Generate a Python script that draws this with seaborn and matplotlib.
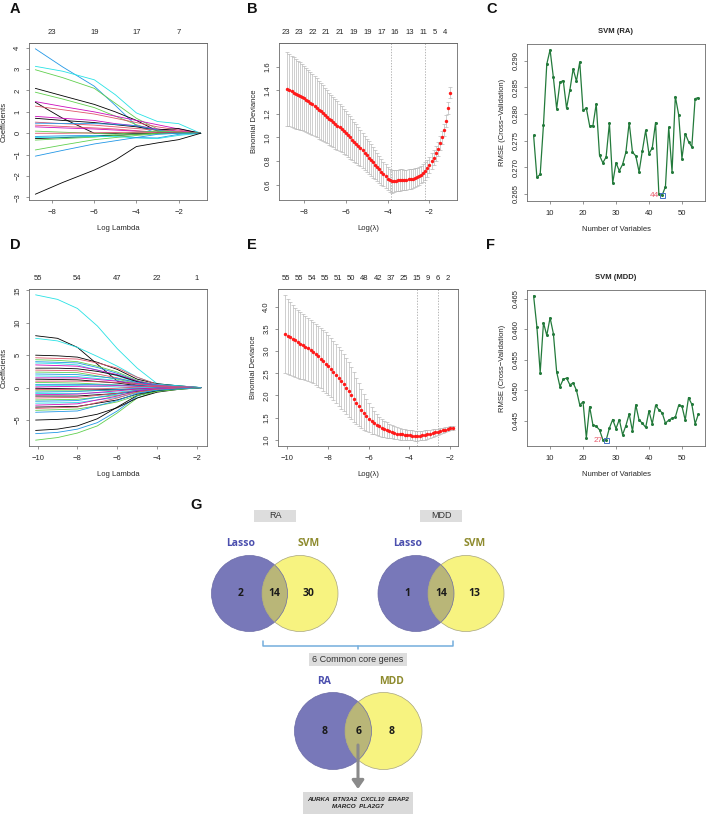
import numpy as np
import matplotlib
matplotlib.use('Agg')
from matplotlib import pyplot as plt
from matplotlib.patches import Circle, Rectangle
import seaborn as sns

W, H = 706, 814
R_PAL = ['#000000', '#DF536B', '#61D04F', '#2297E6', '#28E2E5', '#CD0BBC']
FRAME = '#6B6B6B'
TXT = '#262626'
FS = 5.5
SVM_GREEN = '#237A3B'
VENN_BLUE, VENN_YEL, VENN_MID = '#7878B9', '#F7F380', '#B9B678'
NAME_BLUE, NAME_OLIVE = '#4B4FAE', '#8E8B2E'

# ---- A: lasso coefficient paths (RA)
A_LOGLAM = [-8.8, -7.5, -6.0, -5.0, -4.0, -3.0, -2.0, -0.95]
A_COEF = [
    [3.95, 3.10, 2.20, 1.30, 0.35, 0.00, 0.00, 0],
    [3.13, 2.90, 2.50, 1.80, 0.95, 0.55, 0.45, 0],
    [2.97, 2.60, 2.10, 1.40, 0.70, 0.20, 0.05, 0],
    [2.10, 1.75, 1.35, 1.00, 0.60, 0.10, 0.00, 0],
    [1.92, 1.60, 1.20, 0.80, 0.40, 0.10, 0.00, 0],
    [1.48, 1.25, 1.00, 0.80, 0.60, 0.40, 0.20, 0],
    [1.45, 0.70, 0.00, 0.00, 0.00, 0.00, 0.00, 0],
    [1.27, 1.10, 0.90, 0.70, 0.50, 0.30, 0.15, 0],
    [0.79, 0.70, 0.60, 0.45, 0.35, 0.20, 0.10, 0],
    [0.70, 0.60, 0.50, 0.40, 0.30, 0.15, 0.22, 0],
    [0.52, 0.45, 0.38, 0.30, 0.22, 0.15, 0.08, 0],
    [0.47, 0.46, 0.45, 0.42, 0.35, 0.15, 0.00, 0],
    [0.38, 0.32, 0.25, 0.20, 0.12, 0.05, 0.00, 0],
    [0.30, 0.25, 0.20, 0.15, 0.10, 0.05, 0.03, 0],
    [0.10, 0.05, 0.00, -0.05, 0.05, 0.10, 0.05, 0],
    [0.00, 0.00, 0.02, 0.04, 0.05, 0.03, 0.01, 0],
    [-0.15, -0.12, -0.10, -0.10, -0.20, -0.22, -0.05, 0],
    [-0.25, -0.20, -0.15, -0.10, -0.05, 0.00, 0.00, 0],
    [-0.32, -0.25, -0.18, -0.10, -0.05, 0.00, 0.00, 0],
    [-0.20, -0.18, -0.15, -0.15, -0.22, -0.25, -0.10, 0],
    [-0.78, -0.55, -0.30, -0.20, -0.10, -0.03, 0.00, 0],
    [-1.07, -0.80, -0.50, -0.35, -0.20, -0.05, 0.00, 0],
    [-2.85, -2.30, -1.72, -1.25, -0.62, -0.45, -0.30, 0],
]
A_COL = [3, 4, 2, 0, 2, 5, 0, 1, 5, 0, 1, 3, 1, 5, 2, 1, 3, 0, 2, 4, 2, 3, 0]
A_TOP_AT = [-8, -6, -4, -2]
A_TOP_DF = ['23', '19', '17', '7']

# ---- B: cv binomial deviance (RA), log lambda from -8.8 to -1.0
B_LOGLAM = np.linspace(-8.8, -1.0, 79)
B_MEAN = [1.41, 1.40, 1.39, 1.38, 1.37, 1.36, 1.35, 1.34, 1.33, 1.318,
          1.305, 1.292, 1.28, 1.265, 1.25, 1.235, 1.22, 1.205, 1.19, 1.175,
          1.16, 1.145, 1.13, 1.115, 1.10, 1.085, 1.07, 1.052, 1.035, 1.018,
          1.00, 0.982, 0.965, 0.948, 0.93, 0.91, 0.89, 0.87, 0.85, 0.83,
          0.81, 0.79, 0.77, 0.75, 0.73, 0.71, 0.69, 0.67, 0.652, 0.636,
          0.628, 0.63, 0.634, 0.637, 0.64, 0.641, 0.642, 0.643, 0.645, 0.648,
          0.652, 0.658, 0.665, 0.674, 0.685, 0.698, 0.714, 0.737, 0.766, 0.797,
          0.83, 0.866, 0.905, 0.95, 1.0, 1.065, 1.14, 1.25, 1.38]
B_SD = [0.31, 0.305, 0.30, 0.298, 0.295, 0.29, 0.285, 0.28, 0.275, 0.27,
        0.265, 0.262, 0.26, 0.255, 0.25, 0.245, 0.24, 0.235, 0.23, 0.225,
        0.22, 0.218, 0.215, 0.21, 0.205, 0.20, 0.195, 0.19, 0.185, 0.182,
        0.18, 0.175, 0.17, 0.165, 0.16, 0.155, 0.15, 0.145, 0.14, 0.138,
        0.135, 0.13, 0.125, 0.12, 0.115, 0.11, 0.105, 0.102, 0.10, 0.098,
        0.095, 0.092, 0.09, 0.09, 0.09, 0.088, 0.085, 0.085, 0.085, 0.082,
        0.08, 0.08, 0.08, 0.078, 0.075, 0.075, 0.075, 0.072, 0.07, 0.068,
        0.065, 0.062, 0.06, 0.058, 0.055, 0.052, 0.05, 0.048, 0.045]
B_VLINES = [-3.85, -2.2]
B_TOP_AT = [-8.88, -8.27, -7.60, -6.94, -6.30, -5.62, -4.95, -4.28, -3.65, -2.96, -2.30, -1.76, -1.27]
B_TOP_DF = ['23', '23', '22', '21', '21', '19', '19', '17', '16', '13', '11', '5', '4']

# ---- C / F: SVM-RFE
N_VARS = np.arange(5, 56)
C_RMSE = [0.2760, 0.2681, 0.2686, 0.2780, 0.2894, 0.2921, 0.2869, 0.2810, 0.2860, 0.2863,
          0.2811, 0.2845, 0.2885, 0.2862, 0.2898, 0.2807, 0.2811, 0.2778, 0.2778, 0.2819,
          0.2722, 0.2708, 0.2719, 0.2783, 0.2670, 0.2708, 0.2693, 0.2705, 0.2728, 0.2784,
          0.2728, 0.2721, 0.2691, 0.2731, 0.2769, 0.2725, 0.2736, 0.2784, 0.2650, 0.2647,
          0.2663, 0.2775, 0.2691, 0.2833, 0.2799, 0.2716, 0.2763, 0.2748, 0.2738, 0.2829,
          0.2831]
F_RMSE = [0.4655, 0.4604, 0.4529, 0.4611, 0.4590, 0.4619, 0.4593, 0.4530, 0.4506, 0.4518,
          0.4520, 0.4509, 0.4512, 0.4500, 0.4476, 0.4481, 0.4422, 0.4473, 0.4443, 0.4441,
          0.4435, 0.4419, 0.4418, 0.4438, 0.4452, 0.4437, 0.4452, 0.4427, 0.4442, 0.4461,
          0.4433, 0.4476, 0.4451, 0.4446, 0.4439, 0.4466, 0.4445, 0.4475, 0.4468, 0.4463,
          0.4446, 0.4451, 0.4454, 0.4456, 0.4475, 0.4474, 0.4451, 0.4488, 0.4477, 0.4445,
          0.4461]

# ---- D: lasso coefficient paths (MDD)
D_LOGLAM = [-10.1, -9.0, -8.0, -7.0, -6.0, -5.0, -4.0, -3.0, -1.8]
D_COEF = [
    [14.3, 13.6, 12.2, 9.5, 6.0, 3.0, 0.6, 0.3, 0],
    [8.0, 7.6, 6.2, 3.6, 1.0, 0.4, 0.2, 0.1, 0],
    [7.6, 7.2, 6.2, 4.8, 3.3, 1.6, 0.5, 0.2, 0],
    [-8.1, -7.7, -7.0, -5.9, -3.9, -1.6, -0.5, -0.2, 0],
    [-7.1, -6.9, -6.4, -5.4, -3.6, -1.3, -0.4, -0.1, 0],
    [-6.6, -6.4, -5.9, -4.8, -3.0, -1.2, -0.5, -0.2, 0],
    [-5.0, -4.9, -4.7, -4.1, -3.1, -1.6, -0.7, -0.3, 0],
    [5.0, 4.9, 4.7, 3.9, 2.8, 1.3, 0.6, 0.3, 0],
    [4.6, 4.5, 4.4, 3.8, 3.0, 1.6, 0.5, 0.2, 0],
    [4.3, 4.2, 4.0, 3.3, 2.4, 1.1, 0.4, 0.15, 0],
    [4.0, 3.9, 3.8, 3.1, 2.2, 1.0, 0.3, 0.1, 0],
    [3.8, 3.7, 3.5, 2.7, 1.8, 0.8, 0.5, 0.3, 0],
    [3.5, 3.4, 3.3, 2.7, 2.0, 1.0, 0.4, 0.1, 0],
    [3.0, 3.0, 2.9, 2.5, 1.9, 0.9, 0.2, 0.05, 0],
    [2.7, 2.65, 2.6, 2.1, 1.5, 0.7, 0.3, 0.1, 0],
    [2.4, 2.35, 2.3, 1.8, 1.3, 0.6, 0.1, 0.0, 0],
    [2.1, 2.05, 2.0, 1.7, 1.4, 0.8, 0.4, 0.2, 0],
    [1.8, 1.75, 1.7, 1.4, 1.1, 0.5, 0.2, 0.05, 0],
    [1.5, 1.5, 1.5, 1.25, 1.0, 0.6, 0.3, 0.1, 0],
    [1.3, 1.25, 1.2, 0.95, 0.7, 0.3, 0.1, 0.0, 0],
    [1.0, 1.0, 1.0, 0.9, 0.8, 0.5, 0.3, 0.15, 0],
    [0.8, 0.75, 0.7, 0.55, 0.4, 0.2, 0.0, 0.0, 0],
    [0.5, 0.5, 0.5, 0.45, 0.4, 0.3, 0.2, 0.1, 0],
    [0.3, 0.3, 0.3, 0.2, 0.1, 0.0, -0.1, 0.0, 0],
    [0.1, 0.15, 0.2, 0.25, 0.3, 0.2, 0.1, 0.05, 0],
    [-0.1, -0.15, -0.2, -0.25, -0.3, -0.2, -0.1, 0.0, 0],
    [-0.3, -0.3, -0.3, -0.2, -0.1, 0.1, 0.2, 0.1, 0],
    [-0.5, -0.5, -0.5, -0.45, -0.4, -0.3, -0.2, -0.1, 0],
    [-0.7, -0.65, -0.6, -0.45, -0.3, -0.1, 0.0, 0.0, 0],
    [-0.9, -0.9, -0.9, -0.8, -0.7, -0.4, -0.2, -0.1, 0],
    [-1.1, -1.05, -1.0, -0.75, -0.5, -0.2, -0.1, 0.0, 0],
    [-1.3, -1.3, -1.3, -1.1, -0.9, -0.6, -0.3, -0.1, 0],
    [-1.6, -1.55, -1.5, -1.2, -0.9, -0.4, -0.1, 0.0, 0],
    [-1.9, -1.85, -1.8, -1.5, -1.2, -0.7, -0.3, -0.1, 0],
    [-2.1, -2.05, -2.0, -1.5, -1.0, -0.4, -0.2, -0.1, 0],
    [-2.4, -2.35, -2.3, -1.9, -1.5, -0.8, -0.4, -0.2, 0],
    [-2.7, -2.6, -2.5, -1.9, -1.3, -0.5, -0.2, -0.1, 0],
    [-3.0, -2.95, -2.9, -2.4, -1.9, -1.0, -0.5, -0.2, 0],
    [-3.2, -3.1, -3.0, -2.3, -1.6, -0.7, -0.3, -0.1, 0],
    [-3.5, -3.4, -3.3, -2.8, -2.2, -1.2, -0.6, -0.3, 0],
    [-3.8, -3.7, -3.6, -2.8, -2.0, -0.9, -0.4, -0.2, 0],
]
D_COL = [4, 0, 4, 2, 3, 0, 0] + [i % 6 for i in range(34)]
D_TOP_AT = [-10, -8, -6, -4, -2]
D_TOP_DF = ['55', '54', '47', '22', '1']

# ---- E: cv binomial deviance (MDD), log lambda from -10.1 to -1.85
E_LOGLAM = np.linspace(-10.1, -1.85, 67)
E_MEAN = [3.38, 3.345, 3.31, 3.275, 3.24, 3.205, 3.17, 3.135, 3.10, 3.065,
          3.03, 2.98, 2.93, 2.88, 2.83, 2.775, 2.72, 2.66, 2.60, 2.535,
          2.47, 2.40, 2.33, 2.25, 2.17, 2.09, 2.01, 1.925, 1.84, 1.755,
          1.67, 1.60, 1.54, 1.48, 1.43, 1.385, 1.34, 1.305, 1.27, 1.24,
          1.21, 1.19, 1.17, 1.155, 1.14, 1.13, 1.12, 1.11, 1.10, 1.097,
          1.095, 1.092, 1.09, 1.095, 1.10, 1.11, 1.12, 1.135, 1.15, 1.165,
          1.18, 1.195, 1.21, 1.225, 1.24, 1.255, 1.27]
E_UP = [4.27, 4.18, 4.10, 4.04, 3.98, 3.93, 3.88, 3.84, 3.80, 3.75,
        3.70, 3.66, 3.62, 3.57, 3.52, 3.47, 3.42, 3.36, 3.30, 3.235,
        3.17, 3.095, 3.02, 2.935, 2.85, 2.75, 2.65, 2.525, 2.40, 2.275,
        2.15, 2.03, 1.92, 1.83, 1.74, 1.66, 1.58, 1.525, 1.47, 1.43,
        1.39, 1.36, 1.33, 1.305, 1.28, 1.265, 1.25, 1.24, 1.23, 1.22,
        1.21, 1.205, 1.20, 1.20, 1.20, 1.21, 1.22, 1.23, 1.24, 1.245,
        1.25, 1.26, 1.27, 1.28, 1.29, 1.30, 1.31]
E_LO = [2.50, 2.48, 2.46, 2.44, 2.42, 2.40, 2.38, 2.365, 2.35, 2.325,
        2.30, 2.27, 2.24, 2.20, 2.16, 2.11, 2.06, 2.01, 1.96, 1.90,
        1.84, 1.77, 1.70, 1.64, 1.58, 1.52, 1.46, 1.41, 1.36, 1.315,
        1.27, 1.23, 1.19, 1.165, 1.14, 1.12, 1.10, 1.085, 1.07, 1.06,
        1.05, 1.04, 1.03, 1.02, 1.01, 1.005, 1.00, 0.995, 0.99, 0.988,
        0.985, 0.982, 0.98, 0.985, 0.99, 1.005, 1.02, 1.04, 1.06, 1.085,
        1.11, 1.13, 1.15, 1.17, 1.19, 1.21, 1.23]
E_VLINES = [-3.63, -2.59]
E_TOP_AT = [-10.08, -9.42, -8.79, -8.13, -7.49, -6.85, -6.20, -5.54, -4.90, -4.26, -3.61, -3.07, -2.59, -2.13]
E_TOP_DF = ['55', '55', '54', '55', '51', '50', '48', '42', '37', '25', '15', '9', '6', '2']

# ---- G: venn counts
RA_VENN = [2, 14, 30]
MDD_VENN = [1, 14, 13]
CORE_VENN = [8, 6, 8]
CORE_GENES = ['AURKA', 'BTN3A2', 'CXCL10', 'ERAP2', 'MARCO', 'PLA2G7']

# axes boxes in pixels: left, top, right, bottom
AX_PX = {
    'A': (29, 43, 207, 200), 'B': (279, 43, 457, 200), 'C': (527, 44, 705, 201),
    'D': (29, 289, 207, 446), 'E': (278, 289, 458, 446), 'F': (527, 290, 705, 446),
}

sns.set_style('ticks')
plt.rcParams['font.family'] = ['Liberation Sans', 'DejaVu Sans']
fig = plt.figure(figsize=(W / 100, H / 100), dpi=100)


def add_ax(key):
    l, t, r, b = AX_PX[key]
    return fig.add_axes([l / W, 1 - b / H, (r - l) / W, (b - t) / H])


def r_frame(ax, key, xlabel, ylabel, xticks, yticks, yfmt='{:g}'):
    l, t, r, b = AX_PX[key]
    for s in ax.spines.values():
        s.set_visible(True)
        s.set_color(FRAME)
        s.set_linewidth(0.6)
    ax.set_xticks(xticks)
    ax.set_xticklabels([f'{v:g}'.replace('-', '\u2212') for v in xticks])
    ax.set_yticks(yticks)
    ax.set_yticklabels([yfmt.format(v).replace('-', '\u2212') for v in yticks],
                       rotation=90, va='center')
    ax.tick_params(labelsize=FS, length=2.5, width=0.5, color=FRAME,
                   labelcolor=TXT, pad=4)
    ax.tick_params(axis='y', pad=3)
    ax.set_xlabel(xlabel, fontsize=FS, color=TXT)
    ax.set_ylabel(ylabel, fontsize=FS, color=TXT)
    ax.xaxis.set_label_coords(0.5, -25 / (b - t))
    ax.yaxis.set_label_coords(-21 / (r - l), 0.5)
    ax.grid(False)


def top_axis(ax, at, labels):
    sec = ax.secondary_xaxis('top')
    sec.set_xticks(at)
    sec.set_xticklabels(labels)
    sec.tick_params(length=0, pad=5, labelsize=FS, labelcolor=TXT)
    sec.spines['top'].set_color(FRAME)
    sec.spines['top'].set_linewidth(0.6)


def path_panel(ax, loglam, coefs, cols):
    for row, ci in zip(coefs, cols):
        sns.lineplot(x=loglam, y=row, ax=ax, color=R_PAL[ci], lw=0.6)


def cv_panel(ax, loglam, mean, lo, hi, vlines):
    mean, lo, hi = np.asarray(mean), np.asarray(lo), np.asarray(hi)
    for v in vlines:
        ax.axvline(v, color='#9A9A9A', lw=0.5, ls=(0, (2, 2)), zorder=0)
    ax.errorbar(loglam, mean, yerr=[mean - lo, hi - mean], fmt='none',
                ecolor='#B3B3B3', elinewidth=0.45, capsize=1.2, capthick=0.45, zorder=1)
    sns.scatterplot(x=loglam, y=mean, ax=ax, color='#FF1A1A', s=6,
                    linewidth=0, zorder=3)


def svm_panel(ax, n, rmse, title):
    rmse = np.asarray(rmse)
    sns.lineplot(x=n, y=rmse, ax=ax, color=SVM_GREEN, lw=0.9, marker='o',
                 markersize=2.2, markeredgewidth=0)
    i = int(np.argmin(rmse))
    ax.plot(n[i], rmse[i], marker='s', ms=3.6, mfc='none', mec='#4472C4', mew=0.7)
    ax.text(n[i] - 0.9, rmse[i], str(n[i]), color='#E8596A', fontsize=6,
            ha='right', va='center')
    ax.set_title(title, fontsize=FS, fontweight='bold', pad=8, color=TXT)
    pad = 0.04 * (rmse.max() - rmse.min())
    ax.set_ylim(rmse.min() - pad, rmse.max() + pad)
    ax.set_xlim(3, 57)


# A
ax = add_ax('A')
path_panel(ax, A_LOGLAM, A_COEF, A_COL)
ax.set_xlim(-9.1, -0.65)
ax.set_ylim(-3.12, 4.22)
r_frame(ax, 'A', 'Log Lambda', 'Coefficients', [-8, -6, -4, -2], range(-3, 5))
top_axis(ax, A_TOP_AT, A_TOP_DF)

# B
ax = add_ax('B')
cv_panel(ax, B_LOGLAM, B_MEAN, np.subtract(B_MEAN, B_SD), np.add(B_MEAN, B_SD), B_VLINES)
ax.set_xlim(-9.2, -0.68)
ax.set_ylim(0.47, 1.80)
r_frame(ax, 'B', 'Log(\u03bb)', 'Binomial Deviance', [-8, -6, -4, -2],
        [0.6, 0.8, 1.0, 1.2, 1.4, 1.6], '{:.1f}')
top_axis(ax, B_TOP_AT, B_TOP_DF)

# C
ax = add_ax('C')
svm_panel(ax, N_VARS, C_RMSE, 'SVM (RA)')
r_frame(ax, 'C', 'Number of Variables', 'RMSE (Cross\u2212Validation)', [10, 20, 30, 40, 50],
        [0.265, 0.270, 0.275, 0.280, 0.285, 0.290], '{:.3f}')

# D
ax = add_ax('D')
path_panel(ax, D_LOGLAM, D_COEF, D_COL)
ax.set_xlim(-10.43, -1.5)
ax.set_ylim(-9.0, 15.2)
r_frame(ax, 'D', 'Log Lambda', 'Coefficients', [-10, -8, -6, -4, -2], [-5, 0, 5, 10, 15])
top_axis(ax, D_TOP_AT, D_TOP_DF)

# E
ax = add_ax('E')
cv_panel(ax, E_LOGLAM, E_MEAN, E_LO, E_UP, E_VLINES)
ax.set_xlim(-10.45, -1.6)
ax.set_ylim(0.86, 4.40)
r_frame(ax, 'E', 'Log(\u03bb)', 'Binomial Deviance', [-10, -8, -6, -4, -2],
        [1.0, 1.5, 2.0, 2.5, 3.0, 3.5, 4.0], '{:.1f}')
top_axis(ax, E_TOP_AT, E_TOP_DF)

# F
ax = add_ax('F')
svm_panel(ax, N_VARS, F_RMSE, 'SVM (MDD)')
r_frame(ax, 'F', 'Number of Variables', 'RMSE (Cross\u2212Validation)', [10, 20, 30, 40, 50],
        [0.445, 0.450, 0.455, 0.460, 0.465], '{:.3f}')

# ---- overlay in pixel coordinates for letters and panel G
ov = fig.add_axes([0, 0, 1, 1])
ov.set_xlim(0, W)
ov.set_ylim(H, 0)
ov.axis('off')

for letter, (lx, ly) in {'A': (10, 9), 'B': (247, 9), 'C': (486, 9), 'D': (10, 245),
                         'E': (247, 245), 'F': (486, 245), 'G': (190, 505)}.items():
    ov.text(lx, ly, letter, fontsize=10.5, fontweight='bold', ha='left', va='center',
            color='#111111')


def grey_box(x0, y0, x1, y1, text, fs=6.5, **kw):
    ov.add_patch(Rectangle((x0, y0), x1 - x0, y1 - y0, fc='#DDDDDD', ec='none'))
    ov.text((x0 + x1) / 2, (y0 + y1) / 2, text, fontsize=fs, ha='center', va='center',
            color='#333333', **kw)


def venn2(cx1, cx2, cy, r, counts, names):
    blue = Circle((cx1, cy), r, fc=VENN_BLUE, ec='none')
    ov.add_patch(blue)
    ov.add_patch(Circle((cx2, cy), r, fc=VENN_YEL, ec='none'))
    mid = Circle((cx2, cy), r, fc=VENN_MID, ec='none')
    ov.add_patch(mid)
    mid.set_clip_path(blue)
    ov.add_patch(Circle((cx1, cy), r, fill=False, ec='#6A6AA6', lw=0.5))
    ov.add_patch(Circle((cx2, cy), r, fill=False, ec='#A8A57E', lw=0.5))
    xs = [cx1 - 0.23 * r, (cx1 + cx2) / 2, cx2 + 0.22 * r]
    for x, c in zip(xs, counts):
        ov.text(x, cy, str(c), fontsize=7.5, fontweight='bold', ha='center', va='center',
                color='#1A1A1A', family='Open Sans')
    ov.text(xs[0], cy - 50, names[0], fontsize=7.5, fontweight='bold', ha='center',
            va='center', color=NAME_BLUE, family='Open Sans')
    ov.text(xs[2], cy - 50, names[1], fontsize=7.5, fontweight='bold', ha='center',
            va='center', color=NAME_OLIVE, family='Open Sans')


grey_box(254, 510, 296, 522, 'RA')
grey_box(420, 510, 462, 522, 'MDD')
venn2(249.5, 300, 593.5, 38, RA_VENN, ['Lasso', 'SVM'])
venn2(416, 466, 593.5, 38, MDD_VENN, ['Lasso', 'SVM'])

# bracket joining both selections
ov.plot([263, 263, 453, 453], [640.5, 645.5, 645.5, 640.5], color='#74AEDD', lw=1.1,
        solid_joinstyle='round')
ov.plot([358, 358], [645.5, 649], color='#74AEDD', lw=1.1)
grey_box(309, 653, 407, 666, f'{CORE_VENN[1]} Common core genes', fs=6.5)

venn2(333, 383.5, 731, 38.5, CORE_VENN, ['RA', 'MDD'])

ov.annotate('', xy=(358, 789), xytext=(358, 745),
            arrowprops=dict(arrowstyle='-|>,head_length=0.5,head_width=0.35',
                            color='#8A8A8A', lw=2.2, shrinkA=0, shrinkB=0))
ov.add_patch(Rectangle((303, 792), 110, 22, fc='#DADADA', ec='none'))
gene_txt = '  '.join(CORE_GENES[:4]) + '\n' + '  '.join(CORE_GENES[4:])
ov.text(358, 803, gene_txt, fontsize=4.5, fontweight='bold', fontstyle='italic',
        ha='center', va='center', color='#222222', linespacing=1.3)

fig.savefig('out.png', dpi=100)
